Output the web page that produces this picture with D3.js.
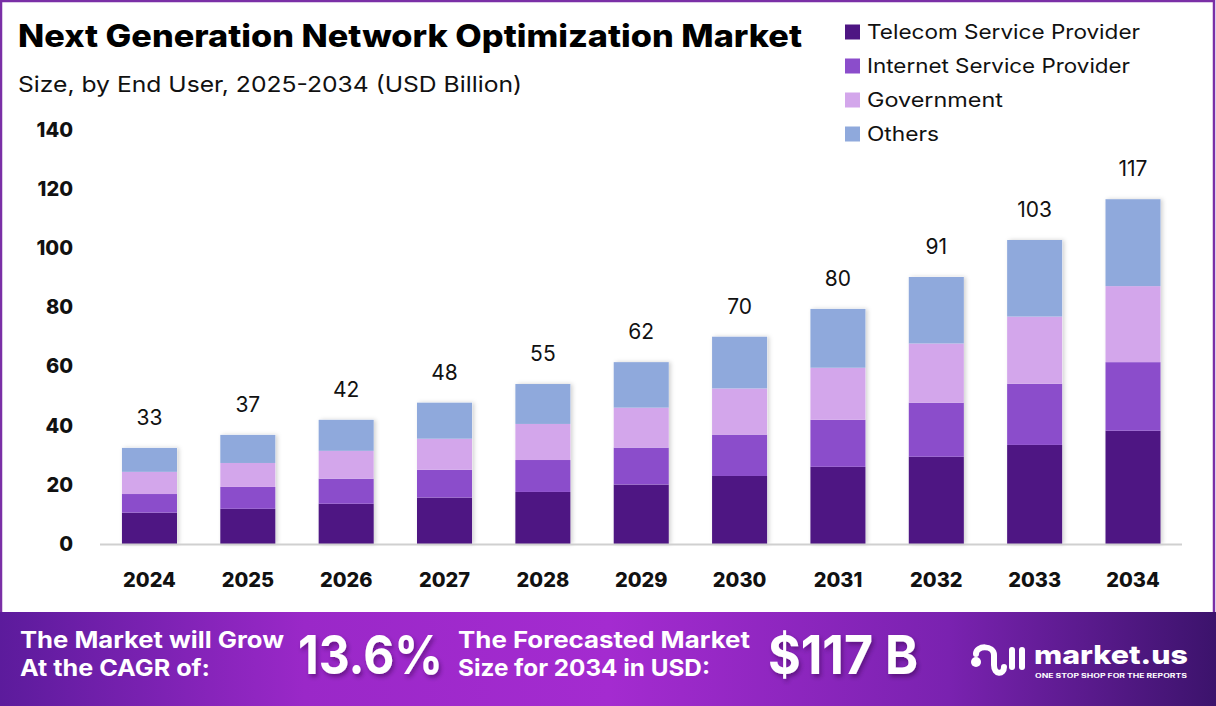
<!DOCTYPE html>
<html>
<head>
<meta charset="utf-8">
<script src="https://cdn.jsdelivr.net/npm/d3@7"></script>
<style>
  html, body { margin: 0; padding: 0; background: #fff; }
  svg { display: block; font-family: "Inter", "Noto Sans", sans-serif; }
</style>
</head>
<body>
<div id="chart"></div>
<script>
// values (USD Billion)
const years = ["2024", "2025", "2026", "2027", "2028", "2029", "2030", "2031", "2032", "2033", "2034"];
const telecom = [10.6, 11.9, 13.6, 15.7, 17.6, 20.1, 23.0, 26.1, 29.5, 33.5, 38.3];
const isp = [6.3, 7.4, 8.5, 9.4, 10.8, 12.5, 14.0, 15.9, 18.3, 20.7, 23.2];
const gov = [7.5, 8.1, 9.4, 10.5, 12.2, 13.5, 15.6, 17.6, 20.0, 22.7, 25.7];
const others = [8.1, 9.5, 10.5, 12.2, 13.5, 15.4, 17.5, 19.9, 22.5, 25.9, 29.4];
const totals = [33, 37, 42, 48, 55, 62, 70, 80, 91, 103, 117];
const seriesNames = ["Telecom Service Provider", "Internet Service Provider", "Government", "Others"];
const colors = ["#4e1683", "#8b4dcb", "#d3a6eb", "#8fa9dc"];
const yTicks = [0, 20, 40, 60, 80, 100, 120, 140];

const width = 1216, height = 706;

const svg = d3.select("#chart").append("svg")
    .attr("width", width)
    .attr("height", height);

const defs = svg.append("defs");
const grad = defs.append("linearGradient").attr("id", "banner").attr("x1", "0").attr("x2", "1");
grad.append("stop").attr("offset", "0").attr("stop-color", "#5c1b9c");
grad.append("stop").attr("offset", "0.25").attr("stop-color", "#9a28c8");
grad.append("stop").attr("offset", "0.5").attr("stop-color", "#a42bd0");
grad.append("stop").attr("offset", "0.78").attr("stop-color", "#7a22b0");
grad.append("stop").attr("offset", "1").attr("stop-color", "#3c136c");

const shadow = defs.append("filter").attr("id", "shadow").attr("x", "-20%").attr("y", "-20%").attr("width", "140%").attr("height", "140%");
shadow.append("feDropShadow").attr("dx", 2).attr("dy", 0).attr("stdDeviation", 2).attr("flood-color", "#000").attr("flood-opacity", 0.18);

const txtShadow = defs.append("filter").attr("id", "tshadow");
txtShadow.append("feDropShadow").attr("dx", 2).attr("dy", 3).attr("stdDeviation", 2).attr("flood-color", "#2a0640").attr("flood-opacity", 0.45);

// frame
svg.append("rect")
    .attr("x", 1).attr("y", 1).attr("width", width - 3).attr("height", 620)
    .attr("fill", "none").attr("stroke", "#7a2fa6").attr("stroke-width", 2.5);

// scales
const x = d3.scaleBand()
    .domain(years)
    .range([100.3, 1182.2])
    .paddingInner(0.44)
    .paddingOuter(0.22);

const y = d3.scaleLinear()
    .domain([0, 140])
    .range([544, 130]);

// stacked data
const table = years.map((yr, i) => ({
    year: yr,
    "Telecom Service Provider": telecom[i],
    "Internet Service Provider": isp[i],
    "Government": gov[i],
    "Others": others[i]
}));
const stacked = d3.stack().keys(seriesNames)(table);

const bars = svg.append("g");
bars.selectAll("g")
    .data(stacked)
    .join("g")
    .attr("fill", (d, i) => colors[i])
    .selectAll("rect")
    .data(d => d)
    .join("rect")
    .attr("x", d => x(d.data.year))
    .attr("y", d => y(d[1]))
    .attr("height", d => y(d[0]) - y(d[1]))
    .attr("width", x.bandwidth());

// shadow behind whole bar
bars.lower();
svg.insert("g", ":first-child").selectAll("rect")
    .data(table)
    .join("rect")
    .attr("x", d => x(d.year))
    .attr("y", (d, i) => y(telecom[i] + isp[i] + gov[i] + others[i]))
    .attr("width", x.bandwidth())
    .attr("height", (d, i) => y(0) - y(telecom[i] + isp[i] + gov[i] + others[i]))
    .attr("fill", "#fff")
    .attr("filter", "url(#shadow)");

// baseline axis
const xAxis = g => g.attr("transform", `translate(0,${y(0)})`)
    .call(d3.axisBottom(x).tickSize(0).tickPadding(0).tickSizeOuter(0))
    .call(g => g.select(".domain").attr("stroke", "#d0d0d0").attr("stroke-width", 2)
        .attr("d", "M100,0.5H1182"))
    .call(g => g.selectAll(".tick text")
        .attr("dy", null).attr("y", 43)
        .attr("font-size", 20).attr("font-weight", 800).attr("fill", "#111")
        .attr("font-family", "Inter, sans-serif"));
svg.append("g").call(xAxis);

const yAxis = g => g.attr("transform", "translate(73,0)")
    .call(d3.axisLeft(y).tickValues(yTicks).tickSize(0).tickPadding(0))
    .call(g => g.select(".domain").remove())
    .call(g => g.selectAll(".tick text")
        .attr("font-size", 20).attr("font-weight", 800).attr("fill", "#111")
        .attr("font-family", "Inter, sans-serif"));
svg.append("g").call(yAxis);

// totals
svg.append("g").selectAll("text")
    .data(table)
    .join("text")
    .attr("x", d => x(d.year) + x.bandwidth() / 2)
    .attr("y", (d, i) => y(telecom[i] + isp[i] + gov[i] + others[i]) - 23)
    .attr("text-anchor", "middle")
    .attr("font-size", 21)
    .attr("fill", "#111")
    .text((d, i) => totals[i]);

// titles
svg.append("text")
    .attr("x", 18).attr("y", 47)
    .attr("font-size", 31).attr("font-weight", 800).attr("fill", "#000")
    .attr("textLength", 784).attr("lengthAdjust", "spacingAndGlyphs")
    .text("Next Generation Network Optimization Market");
svg.append("text")
    .attr("x", 18).attr("y", 92)
    .attr("font-size", 22).attr("fill", "#111")
    .attr("textLength", 504).attr("lengthAdjust", "spacingAndGlyphs")
    .text("Size, by End User, 2025-2034 (USD Billion)");

// legend
const legendWidths = [273, 263, 136, 72];
const legend = svg.append("g").selectAll("g")
    .data(seriesNames)
    .join("g")
    .attr("transform", (d, i) => `translate(845,${38.5 + i * 34})`);
legend.append("rect")
    .attr("x", 0).attr("y", -14).attr("width", 15).attr("height", 15)
    .attr("fill", (d, i) => colors[i]);
legend.append("text")
    .attr("x", 22).attr("y", 0)
    .attr("font-size", 20).attr("fill", "#111")
    .attr("textLength", (d, i) => legendWidths[i]).attr("lengthAdjust", "spacingAndGlyphs")
    .text(d => d);

// bottom banner
svg.append("rect")
    .attr("x", 0).attr("y", 612).attr("width", width).attr("height", height - 612)
    .attr("fill", "url(#banner)");

const banner = svg.append("g").attr("fill", "#fff").attr("font-weight", 700);
banner.append("text").attr("x", 20).attr("y", 648).attr("font-size", 23)
    .attr("textLength", 264).attr("lengthAdjust", "spacingAndGlyphs")
    .text("The Market will Grow");
banner.append("text").attr("x", 20).attr("y", 676).attr("font-size", 23)
    .attr("textLength", 190).attr("lengthAdjust", "spacingAndGlyphs")
    .text("At the CAGR of:");
banner.append("text").attr("x", 298).attr("y", 674).attr("font-size", 54)
    .attr("filter", "url(#tshadow)")
    .attr("textLength", 145).attr("lengthAdjust", "spacingAndGlyphs")
    .text("13.6%");
banner.append("text").attr("x", 458).attr("y", 648).attr("font-size", 23)
    .attr("textLength", 292).attr("lengthAdjust", "spacingAndGlyphs")
    .text("The Forecasted Market");
banner.append("text").attr("x", 458).attr("y", 676).attr("font-size", 23)
    .attr("textLength", 252).attr("lengthAdjust", "spacingAndGlyphs")
    .text("Size for 2034 in USD:");
banner.append("text").attr("x", 768).attr("y", 674).attr("font-size", 54)
    .attr("filter", "url(#tshadow)")
    .attr("textLength", 150).attr("lengthAdjust", "spacingAndGlyphs")
    .text("$117 B");

// logo
const logo = svg.append("g").attr("transform", "translate(970,645)");
logo.append("circle").attr("cx", 6).attr("cy", 17).attr("r", 5).attr("fill", "#fff");
logo.append("path")
    .attr("d", "M6,9 C6,0 24,0 24,10 L24,20 C24,30 34,30 34,22")
    .attr("fill", "none").attr("stroke", "#fff").attr("stroke-width", 6).attr("stroke-linecap", "round");
logo.append("line").attr("x1", 42).attr("x2", 42).attr("y1", 5).attr("y2", 22)
    .attr("stroke", "#fff").attr("stroke-width", 6).attr("stroke-linecap", "round");
logo.append("line").attr("x1", 52).attr("x2", 52).attr("y1", 5).attr("y2", 22)
    .attr("stroke", "#fff").attr("stroke-width", 6).attr("stroke-linecap", "round");
svg.append("text").attr("x", 1034).attr("y", 664).attr("font-size", 26).attr("font-weight", 800)
    .attr("fill", "#fff").attr("textLength", 154).attr("lengthAdjust", "spacingAndGlyphs")
    .text("market.us");
svg.append("text").attr("x", 1035).attr("y", 678).attr("font-size", 5.5).attr("font-weight", 700)
    .attr("fill", "#fff").attr("textLength", 152).attr("lengthAdjust", "spacingAndGlyphs")
    .text("ONE STOP SHOP FOR THE REPORTS");
</script>
</body>
</html>
